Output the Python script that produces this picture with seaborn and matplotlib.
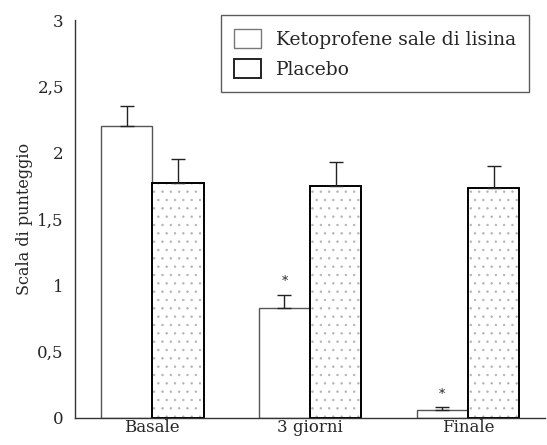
import pandas as pd
import matplotlib
matplotlib.use("Agg")
import matplotlib.pyplot as plt
import seaborn as sns
from matplotlib.patches import Patch

# Dati
categorie = ["Basale", "3 giorni", "Finale"]
gruppi = ["Ketoprofene sale di lisina", "Placebo"]
keto_media = [2.20, 0.83, 0.06]
keto_err = [0.15, 0.10, 0.02]
placebo_media = [1.77, 1.75, 1.73]
placebo_err = [0.18, 0.18, 0.17]
y_ticks = [0, 0.5, 1, 1.5, 2, 2.5, 3]
y_tick_labels = ["0", "0,5", "1", "1,5", "2", "2,5", "3"]

df = pd.DataFrame({
    "Tempo": categorie * 2,
    "Gruppo": [gruppi[0]] * 3 + [gruppi[1]] * 3,
    "Punteggio": keto_media + placebo_media,
})

sns.set_theme(style="white")
plt.rcParams["font.family"] = ["DejaVu Serif"]
plt.rcParams["hatch.linewidth"] = 0.5

fig = plt.figure(figsize=(5.47, 4.45), dpi=100)
ax = fig.add_axes([0.137, 0.061, 0.86, 0.894])

sns.barplot(
    data=df, x="Tempo", y="Punteggio", hue="Gruppo",
    order=categorie, hue_order=gruppi,
    palette=["white", "white"], width=0.65, errorbar=None,
    ax=ax, legend=False,
)

# stile delle barre: bianco per ketoprofene, puntinato per placebo
n = len(categorie)
for i, patch in enumerate(ax.patches[:2 * n]):
    if i < n:
        patch.set_edgecolor("#555555")
        patch.set_linewidth(1.0)
    else:
        patch.set_edgecolor("black")
        patch.set_linewidth(1.4)
        patch.set_hatch("..")
        patch._hatch_color = (0.7, 0.7, 0.7, 1.0)

# barre d'errore solo verso l'alto
errs = keto_err + placebo_err
for patch, e in zip(ax.patches[:2 * n], errs):
    xc = patch.get_x() + patch.get_width() / 2
    h = patch.get_height()
    ax.errorbar(xc, h, yerr=[[0], [e]], fmt="none", ecolor="#222222",
                elinewidth=1.0, capsize=5, capthick=1.0)

# asterischi di significatività
for i in [1, 2]:
    patch = ax.patches[i]
    xc = patch.get_x() + patch.get_width() / 2
    ax.text(xc, keto_media[i] + keto_err[i] + 0.05, "*", ha="center",
            va="bottom", fontsize=9, color="#222222")

ax.set_xlim(-0.49, 2.49)
ax.set_ylim(0, 3)
ax.set_yticks(y_ticks)
ax.set_yticklabels(y_tick_labels, fontsize=12)
ax.set_xticks([0.5, 1.5])
ax.set_xticklabels([])
ax.set_xticks([0, 1, 2], minor=True)
ax.set_xticklabels(categorie, minor=True, fontsize=12)
ax.tick_params(axis="x", which="minor", length=0, pad=1)
ax.tick_params(axis="x", which="major", length=5, width=1, direction="out", colors="#333333")
ax.tick_params(axis="y", length=6, width=1, direction="out", pad=2)
ax.set_xlabel("")
ax.set_ylabel("Scala di punteggio", fontsize=11.5, labelpad=3)

sns.despine(ax=ax)
for s in ["left", "bottom"]:
    ax.spines[s].set_color("#333333")
    ax.spines[s].set_linewidth(1.0)

# legenda
handles = [
    Patch(facecolor="white", edgecolor="#777777", linewidth=1.0),
    Patch(facecolor="white", edgecolor="#222222", linewidth=1.4),
]
leg = ax.legend(handles, gruppi, loc="upper right", bbox_to_anchor=(0.985, 1.035),
                frameon=True, fancybox=False, fontsize=13.5, handlelength=1.4,
                handleheight=1.2, borderpad=0.7, labelspacing=0.55,
                handletextpad=0.8, edgecolor="#333333")
leg.get_frame().set_linewidth(1.0)

fig.savefig("out.png", dpi=100, facecolor="white")
